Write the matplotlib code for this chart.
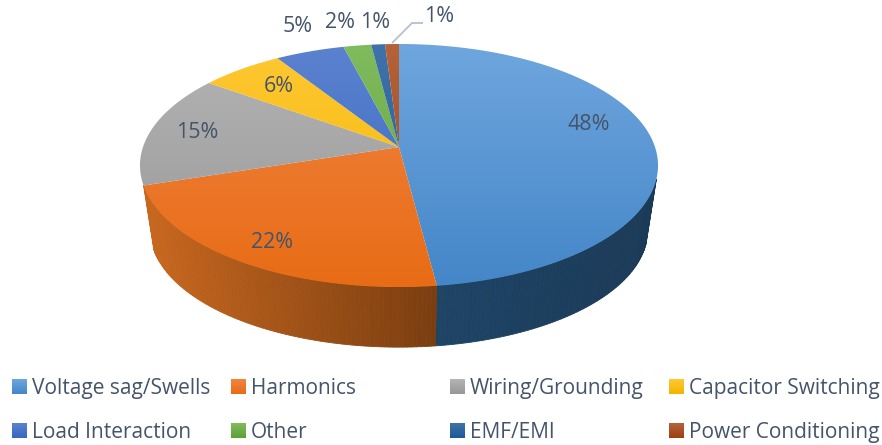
import numpy as np
import matplotlib
matplotlib.use("Agg")
import matplotlib.pyplot as plt
from matplotlib.colors import LinearSegmentedColormap, to_rgb
from matplotlib.patches import Polygon

categories = ["Voltage sag/Swells", "Harmonics", "Wiring/Grounding", "Capacitor Switching",
              "Load Interaction", "Other", "EMF/EMI", "Power Conditioning"]
values = [48, 22, 15, 6, 5, 2, 1, 1]
top_hi = ["#6fa6de", "#f08443", "#b4b4b4", "#ffc833", "#5b82cf", "#80bb5e", "#3f72a8", "#b5623a"]
top_lo = ["#4486c8", "#e86c15", "#979797", "#f2b500", "#3568bf", "#5fa034", "#1f5a96", "#9c4212"]
wall_l = ["#1e4466", "#c8671f"]
wall_r = ["#1b3a57", "#7a3e10"]

W, H, DPI = 882, 445, 100
CX, CY, RY = 399.0, 165.5, 121.5
K = 0.152
S = 256.0
DEPTH, SHRINK = 65.0, 0.96
TEXT = "#44546a"

plt.rcParams["font.family"] = ["Open Sans", "DejaVu Sans"]
fig = plt.figure(figsize=(W / DPI, H / DPI), dpi=DPI, facecolor="white")
ax = fig.add_axes([0, 0, 1, 1])
ax.set_xlim(0, W)
ax.set_ylim(H, 0)
ax.axis("off")


def project(share):
    """Perspective view of a point on the rim at a cumulative share (0..1), clockwise from the top."""
    a = 2 * np.pi * np.asarray(share, dtype=float)
    x, y = np.sin(a), np.cos(a)
    d = 1 + K * y
    return S * x / d, RY * (y + K) / d


cum = np.concatenate([[0], np.cumsum(values)]) / sum(values)

# side wall: only the two front slices show a wall
for i in range(len(wall_l)):
    t0, t1 = cum[i], cum[i + 1]
    ts = np.linspace(t0, t1, max(3, int((t1 - t0) * 400)))
    X, Y = project(ts)
    c0, c1 = np.array(to_rgb(wall_l[i])), np.array(to_rgb(wall_r[i]))
    xmin, xmax = X.min(), X.max()
    for j in range(len(ts) - 1):
        if Y[j] > -15 and Y[j + 1] > -15:
            continue
        f = 0.5 * (X[j] + X[j + 1] - 2 * xmin) / max(xmax - xmin, 1e-6)
        if i == 0:
            f = np.clip((0.5 * (X[j] + X[j + 1]) - X[-1]) / (xmax - X[-1]), 0, 1)
        col = c0 + (c1 - c0) * f
        quad = [(CX + X[j], CY - Y[j]), (CX + X[j + 1], CY - Y[j + 1]),
                (CX + X[j + 1] * SHRINK, CY + DEPTH - Y[j + 1] * SHRINK),
                (CX + X[j] * SHRINK, CY + DEPTH - Y[j] * SHRINK)]
        ax.add_patch(Polygon(quad, closed=True, fc=col, ec=col, lw=0.6, zorder=2))

# top face
ax_x, ax_y = CX, CY - RY * K
for i in range(len(values)):
    ts = np.linspace(cum[i], cum[i + 1], max(3, int((cum[i + 1] - cum[i]) * 720)))
    X, Y = project(ts)
    pts = [(ax_x, ax_y)] + [(CX + a, CY - b) for a, b in zip(X, Y)]
    poly = Polygon(pts, closed=True, fc="none", ec="none", transform=ax.transData)
    ax.add_patch(poly)
    cmap = LinearSegmentedColormap.from_list("g", [top_hi[i], top_lo[i]])
    grad = np.linspace(0, 1, 256).reshape(-1, 1)
    im = ax.imshow(grad, cmap=cmap, aspect="auto", extent=(CX - 280, CX + 280, CY + RY, CY - RY),
                   zorder=3, interpolation="bilinear")
    im.set_clip_path(poly)
ax.set_xlim(0, W)
ax.set_ylim(H, 0)

# leader line for the last label
share_mid = 0.5 * (cum[-2] + cum[-1])
mx, my = project(share_mid)
ax.plot([CX + mx, 412, 423], [CY - my - 1, 23, 23], color="#b4c0d0", lw=1.3, zorder=4,
        solid_capstyle="butt")

# percent labels
label_text = [f"{v}%" for v in values]
label_pos = [(589, 125), (272, 243), (197, 133), (279, 87), (298, 27), (340, 23), (375, 23), (439, 16)]
for s, (x, y) in zip(label_text, label_pos):
    ax.text(x, y, s, ha="center", va="center", fontsize=15.4, color=TEXT, zorder=5)

# legend
leg_x = [12, 231, 450, 669]
leg_y = [387, 431]
for i, name in enumerate(categories):
    x = leg_x[i % 4]
    y = leg_y[i // 4]
    cmap = LinearSegmentedColormap.from_list("l", [top_hi[i], top_lo[i]])
    ax.imshow(np.linspace(0, 1, 32).reshape(-1, 1), cmap=cmap, aspect="auto",
              extent=(x, x + 15, y + 7.5, y - 7.5), zorder=3)
    ax.text(x + 20, y + 1.5, name, ha="left", va="center", fontsize=15.0, color=TEXT)
ax.set_xlim(0, W)
ax.set_ylim(H, 0)

fig.savefig("out.png", dpi=DPI, facecolor="white")
